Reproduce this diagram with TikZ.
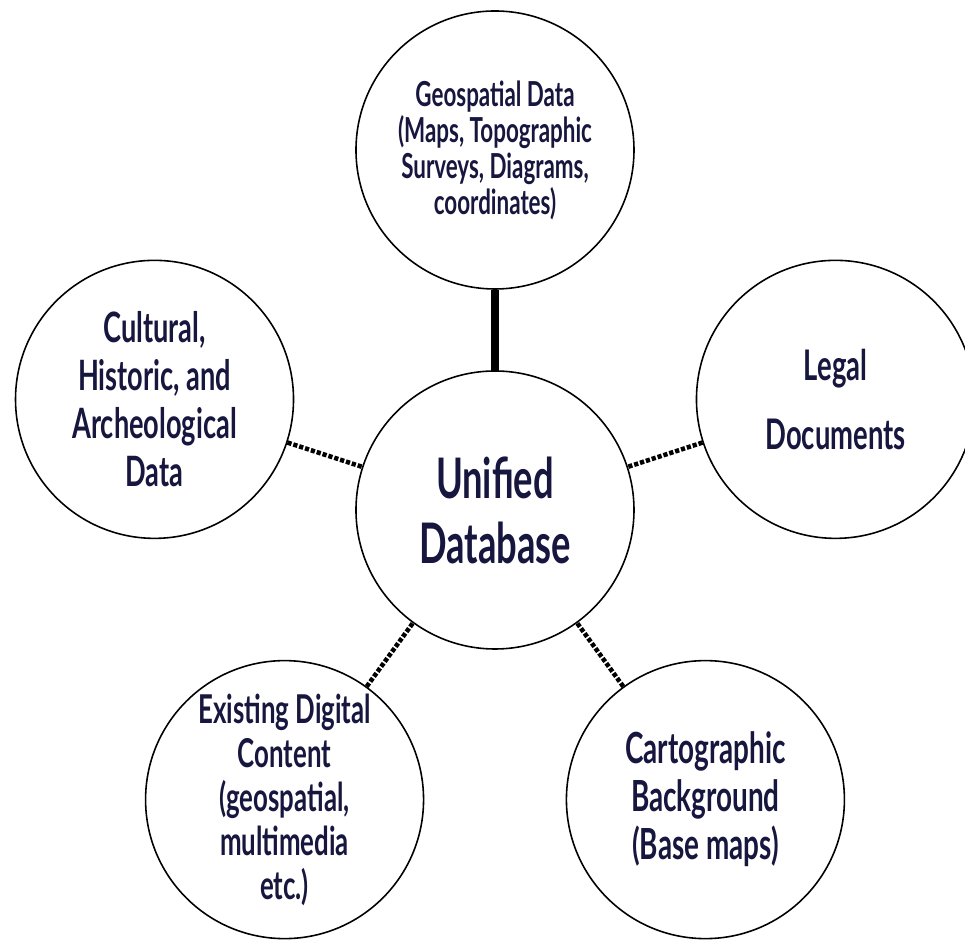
\documentclass[tikz,border=0pt]{standalone}
\usepackage{fontspec}
\setmainfont{Lato}[FakeStretch=0.65]
\usepackage{xcolor}
\usetikzlibrary{positioning,calc}

\definecolor{inknavy}{RGB}{22,22,62}
\tikzset{
    topic/.style={circle, draw, line width=0.9pt, fill=white, minimum size=5.56cm,
        inner sep=0pt, align=center, text=inknavy},
    solidlink/.style={line width=5pt},
    dashlink/.style={line width=2.6pt, dash pattern=on 2.4pt off 1.1pt},
}

\begin{document}
\begin{tikzpicture}[scale=1]
    \useasboundingbox (-9.9,-8.66) rectangle (9.4,10.2);

    % Hub
    \node[topic, font=\bfseries\fontsize{31.8}{37}\selectfont] (db) at (0,0) {Unified\\Database};

    % Surrounding sources
    \node[topic, font=\bfseries\fontsize{19.6}{20.5}\selectfont] (geo) at (90:7.2)
        {Geospatial Data\\(Maps, Topographic\\Surveys, Diagrams,\\coordinates)};
    \node[topic, font=\bfseries\fontsize{23.8}{27.3}\selectfont] (cult) at (162:7.16)
        {Cultural,\\Historic, and\\Archeological\\Data};
    \node[topic, font=\bfseries\fontsize{24}{39}\selectfont] (legal) at (18:7.16)
        {Legal\\Documents};
    \node[topic, font=\bfseries\fontsize{22.6}{25}\selectfont] (digital) at (234:7.16)
        {Existing Digital\\Content\\(geospatial,\\multimedia\\etc.)};
    \node[topic, font=\bfseries\fontsize{24.4}{27.3}\selectfont] (carto) at (306:7.16)
        {Cartographic\\Background\\(Base maps)};

    % Links
    \draw[solidlink] (geo) -- (db);
    \draw[dashlink] (cult) -- (db);
    \draw[dashlink] (legal) -- (db);
    \draw[dashlink] (digital) -- (db);
    \draw[dashlink] (carto) -- (db);
\end{tikzpicture}
\end{document}
